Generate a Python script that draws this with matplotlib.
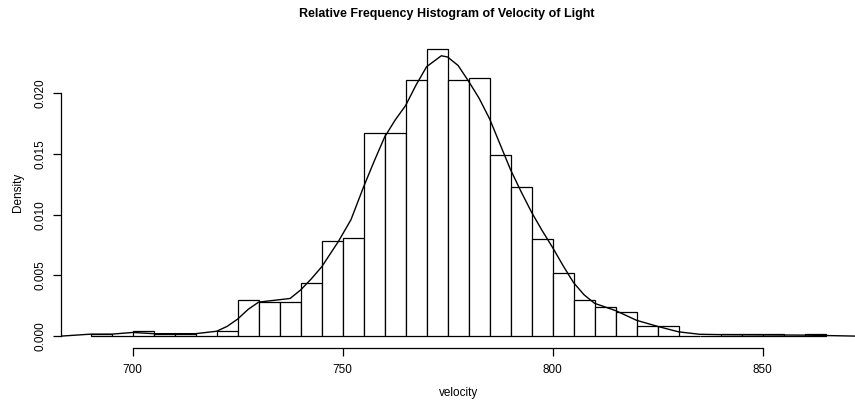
import numpy as np
import matplotlib
matplotlib.use("Agg")
import matplotlib.pyplot as plt

plt.rcParams['font.family'] = ['Liberation Sans', 'DejaVu Sans']

# histogram bins (width 5) and relative frequency density per bin
bin_left = [690, 695, 700, 705, 710, 715, 720, 725, 730, 735,
            740, 745, 750, 755, 760, 765, 770, 775, 780, 785,
            790, 795, 800, 805, 810, 815, 820, 825, 830, 835,
            840, 845, 850, 855, 860]
density = [0.0002, 0.0, 0.0004, 0.0002, 0.0002, 0.0, 0.0004, 0.0030, 0.0028, 0.0028,
           0.0044, 0.0078, 0.0081, 0.0167, 0.0167, 0.0211, 0.0237, 0.0211, 0.0213, 0.0149,
           0.0123, 0.0080, 0.0052, 0.0030, 0.0024, 0.0020, 0.0008, 0.0008, 0.0, 0.0,
           0.0002, 0.0002, 0.0002, 0.0, 0.0002]
bin_width = 5

# kernel density estimate
kde_x = [683, 690, 695, 700, 705, 710, 715, 720, 722.5, 725, 727.5, 730, 735, 737.5,
         740, 742.5, 745, 749, 752, 755, 757.5, 760, 762.5, 765, 767.5, 770, 773.5,
         775, 777.5, 780, 782.5, 785, 787.5, 790, 792.5, 795, 797.5, 800, 802.5, 805,
         807.5, 810, 815, 820, 825, 830, 835, 840, 850, 860, 872]
kde_y = [0.0, 0.00016, 0.00016, 0.0003, 0.0002, 0.0002, 0.0002, 0.0004, 0.0008, 0.0014,
         0.0022, 0.0028, 0.0030, 0.0031, 0.0038, 0.0047, 0.0057, 0.0078, 0.0096, 0.0123,
         0.0144, 0.0164, 0.0178, 0.0190, 0.0207, 0.0222, 0.0231, 0.0230, 0.0223, 0.0210,
         0.0196, 0.0179, 0.0158, 0.0137, 0.0119, 0.0102, 0.0087, 0.0073, 0.0058, 0.0044,
         0.0034, 0.0027, 0.0021, 0.0013, 0.0008, 0.00035, 0.00015, 0.00012, 0.0001, 0.00008, 0.0]

x_ticks = [700, 750, 800, 850]
y_ticks = [0.000, 0.005, 0.010, 0.015, 0.020]

fig = plt.figure(figsize=(8.55, 4.0), dpi=100)
ax = fig.add_axes([0.0716, 0.131, 0.9284, 0.7765])

ax.bar(bin_left, density, width=bin_width, align='edge',
       facecolor='white', edgecolor='black', linewidth=0.9)
ax.plot(kde_x, kde_y, color='black', linewidth=1.0)

ax.set_xlim(683, 872)
top = max(density)
ax.set_ylim(-0.04 * top, 1.04 * top)

for side in ['top', 'right']:
    ax.spines[side].set_visible(False)
ax.spines['bottom'].set_bounds(x_ticks[0], x_ticks[-1])
ax.spines['left'].set_bounds(y_ticks[0], y_ticks[-1])
ax.spines['bottom'].set_linewidth(0.9)
ax.spines['left'].set_linewidth(0.9)

ax.set_xticks(x_ticks)
ax.set_xticklabels([str(t) for t in x_ticks], fontsize=8.5)
ax.set_yticks(y_ticks)
ax.set_yticklabels(['%.3f' % t for t in y_ticks], fontsize=8.5,
                   rotation=90, va='center')
ax.tick_params(axis='x', direction='out', length=5.5, width=0.9, pad=6)
ax.tick_params(axis='y', direction='out', length=5.5, width=0.9, pad=5)

ax.set_xlabel('velocity', fontsize=8.5, labelpad=8)
ax.set_ylabel('Density', fontsize=8.5, labelpad=8)

fig.text(0.523, 0.965, 'Relative Frequency Histogram of Velocity of Light',
         ha='center', va='center', fontsize=9, fontweight='bold')

fig.savefig('out.png', dpi=100)
